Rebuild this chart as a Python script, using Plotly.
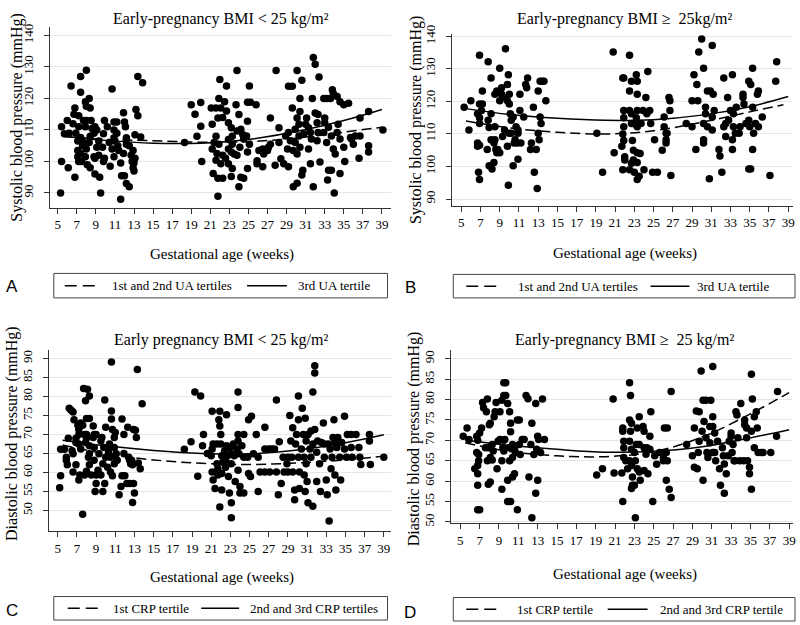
import plotly.graph_objects as go

# ---------------- DATA ----------------
week_ticks = list(range(5, 40, 2))
sbp_ticks = [90, 100, 110, 120, 130, 140]
dbp_ticks = [50, 55, 60, 65, 70, 75, 80, 85, 90]

# Panel A: systolic, BMI < 25  (week, mmHg)
a_points = [
    (5.3,90),(5.4,111),(5.4,100),(5.7,108.8),(6.2,109),(6.1,98),(6.0,113),(6.4,124),(6.7,115),(6.8,117),
    (6.6,112),(6.8,95),(7.4,127),(7.4,122),(8.0,129),(7.9,119),(8.3,120),(8.4,117),(8.0,117.5),(7.2,114.5),
    (7.7,113),(8.0,113),(8.5,113),(7.2,111),(7.9,111),(6.9,109),(7.4,107.6),(7.1,106.5),(7.7,106),(7.6,105),
    (7.1,103.5),(7.4,102.5),(7.1,101.5),(7.2,100),(7.5,100),(7.9,101.5),(8.0,104),(8.3,106),(8.4,108),(8.8,109),
    (8.9,111),(9.1,110),(8.6,110.5),(9.3,106.5),(8.1,99),(8.4,98),(8.8,101.5),(8.9,101),(9.1,104.5),(9.3,102),
    (8.9,96),(9.4,95),(9.5,90),(9.7,104.5),(9.8,108.8),(9.9,113),(10.2,111),(10.4,106),(9.9,101),(9.8,100),
    (10.5,98.5),(10.7,123),(10.9,112.5),(10.9,110),(10.9,107.5),(10.7,104),(10.9,101.5),(11.2,112.5),(11.2,109),(11.0,106.5),
    (11.3,105),(11.4,103.5),(11.6,99.5),(11.7,95.5),(11.6,88),(11.9,115.5),(12.0,112.5),(12.1,111),(12.2,107.5),(11.9,102.5),
    (12.0,95.5),(12.2,93),(12.5,92),(12.2,105.5),(12.5,105),(12.7,102),(12.8,100),(12.9,98),(13.0,97),(13.1,101),
    (13.0,99.5),(12.9,103.5),(13.2,116.5),(13.4,127),(13.4,114.5),(13.9,125),(13.7,107.8),(13.1,108.5),
    (18.3,106),(19.0,118),(19.4,115),(19.6,108),
    (20.0,111.2),(20.1,100),(20.0,118.7),(21.1,117),(21.6,117),(21.9,120),(22.1,117),(22.0,126),(22.7,124),(22.3,114),
    (21.8,113.8),(21.2,111.8),(21.6,108),(21.4,106),(21.9,105.5),(21.2,104),(21.7,102.5),(22.3,102),(21.6,100.4),(22.1,99.3),
    (21.3,96.2),(21.8,94.7),(22.3,94.7),(21.8,89),(22.5,119),(22.7,116),(22.9,112.3),(23.2,110.7),(23.3,108),(22.9,107),
    (23.3,105.5),(22.9,104),(23.2,103),(23.5,102.4),(22.6,101),(22.9,99.3),(23.3,97.8),(23.2,95.2),(23.8,128.9),(23.7,118),
    (24.0,114.9),(23.8,109.7),(24.2,110.2),(24.4,108.6),(24.5,107.1),(24.1,104.5),(23.8,102),(24.2,95),(24.5,94.7),(24.0,92),
    (24.9,118.8),(25.1,124),(25.2,118.8),(25.8,118),(24.9,112.8),(24.8,108.1),(25.1,105.5),(24.9,103),(24.9,97.8),(25.9,100.2),
    (25.9,99.3),(26.5,98.3),(26.1,103.5),(26.5,104),(26.6,102.4),(27.0,103.5),(27.1,104.5),(27.3,105.5),(27.3,113.8),(27.9,128.9),
    (27.8,98.8),(28.2,110.7),(28.2,106),(28.4,100.9),(28.7,99.3),(28.9,108.1),(29.2,123.9),(29.6,123.9),(29.2,109.2),(29.4,106.6),
    (29.1,104),(29.2,98.3),(29.7,103.5),(29.6,117),(30.1,128.9),(30.6,125.8),(30.4,120),(30.1,113.8),(30.4,115.9),(30.3,111.8),
    (29.9,110.2),(30.3,108.1),(29.9,106),(30.4,104.5),(30.1,102.4),(29.7,92),(30.1,93.1),(30.6,95.7),(30.7,97.2),(30.8,108.7),
    (31.0,111.8),(31.1,113.8),(31.3,110.7),(31.5,109.2),(31.6,107.1),(31.3,104),(31.5,99.3),(31.7,120),(31.8,133),(32.0,130.9),
    (32.4,126.8),(31.8,92),(32.0,115.4),(32.3,114.9),(32.2,112.3),(32.3,109.2),(32.2,106.6),(32.5,99.8),(32.9,120),(33.0,113.8),
    (33.2,120),(33.4,110.9),(33.6,120),(33.8,122.8),(33.9,121.6),(33.0,112.3),(32.9,109.2),(33.2,106),(33.7,108.1),(33.4,97.2),
    (33.7,97.2),(33.3,94.1),(34.0,90),(33.9,104),(34.1,102.4),(34.3,120.6),(34.6,119),(35.0,118),(34.4,111.8),(34.3,109.2),
    (34.6,107.1),(35.0,104.5),(34.6,96.2),(35.1,100),(35.5,118.5),(35.7,107.6),(35.8,107.1),(36.0,105.5),(36.2,108.1),(36.7,108.1),
    (36.7,113.8),(36.6,101),(37.6,115.9),(37.6,105),(37.6,103),(39.1,110),
]

# Panel B: systolic, BMI >= 25
b_points = [
    (5.3,118.2),(5.8,111.2),(6.0,120.2),(6.9,134.2),(7.2,123.2),(6.9,119.2),(7.2,119.2),(6.7,116.2),(7.1,117.2),(6.9,115),
    (6.9,113.2),(6.7,107.2),(6.7,106.2),(6.9,106.5),(6.8,98.2),(6.9,96),(7.7,105.2),(7.8,132.2),(8.1,127.2),(7.8,114.2),
    (7.9,112),(8.1,116.2),(7.9,100.2),(8.2,99.2),(8.4,101.2),(8.1,108.2),(8.4,107.2),(8.5,108.2),(8.5,112.2),(8.6,105.2),
    (8.7,104.2),(9.0,104.2),(8.8,105.2),(8.5,122.2),(8.7,123.2),(9.0,130.2),(9.0,120.2),(9.2,124.2),(9.2,122.2),(9.4,121.2),
    (9.3,109.2),(9.5,111.2),(9.6,136.2),(9.8,120.2),(9.8,125.2),(9.9,128.2),(10.0,122.2),(10.0,119.2),(10.1,116.2),(10.2,114.2),
    (10.4,115.2),(10.0,110.2),(10.2,110.2),(9.8,106.2),(9.9,94.2),(10.4,100.2),(10.5,107.2),(10.6,108.2),(10.8,107.2),(10.7,112.2),
    (10.9,111.2),(10.9,110.2),(10.9,102.2),(11.1,122.2),(11.1,117.2),(11.2,107.2),(11.5,115.2),(11.7,125.2),(11.8,124.2),(11.9,127.2),
    (12.2,105.2),(12.3,107.2),(12.5,118.2),(12.6,98.2),(12.8,105.2),(12.9,93.2),(13.0,123.2),(13.0,110.2),(13.1,108.2),(13.2,126.2),
    (13.2,115.2),(13.3,113.2),(13.4,126.2),(13.6,126.2),(13.8,120.2),
    (19.1,110.2),(19.7,98.2),(20.8,135.2),(20.9,104.2),(21.8,127.2),(21.9,127.2),(21.7,106.2),(21.8,99),(21.9,117.2),(21.9,115),
    (21.9,112.2),(21.8,110),(21.9,108),(22.0,103),(22.0,102),(22.5,134.2),(22.5,123.2),(22.7,126.2),(22.5,117.2),(22.7,116.2),
    (22.7,113.2),(22.5,99),(22.7,101),(22.8,108),(22.9,105),(22.9,102),(23.0,98.2),(23.2,128.2),(23.3,126.2),(23.3,122.2),
    (23.3,117.2),(23.2,115),(23.1,113),(23.3,112.2),(23.3,104.2),(23.3,101.2),(23.5,97),(23.6,104),(23.3,96),(23.7,113.2),
    (23.9,117.2),(24.0,99),(24.2,121.2),(24.3,116.2),(24.6,117.2),(24.7,113.2),(24.4,129.2),(25.1,108.2),(24.9,98.2),(25.4,98.2),
    (25.9,105),(26.1,115.2),(26.1,112.2),(26.3,110.2),(26.3,108.2),(26.3,107.2),(26.4,110.2),(26.6,121.2),(26.7,120.2),(26.7,117.2),
    (26.8,97.2),(28.4,113.2),(29.0,112.2),(29.0,120.2),(29.2,128.2),(29.5,125.2),(29.4,105.2),(29.6,120.2),(29.7,135.2),(30.0,139.2),
    (30.2,130.2),(30.2,113.2),(30.4,118.2),(30.4,116.2),(30.6,123.2),(30.6,112.2),(30.2,107.2),(30.2,108.2),(30.9,123.2),(31.1,137.2),
    (31.2,122.2),(31.1,115.2),(31.1,111.2),(30.8,96.2),(31.3,117.2),(31.8,105.2),(31.9,103.2),(32.1,98.2),(32.3,127.2),(32.3,112.2),
    (32.5,113.2),(32.5,109.2),(32.7,121.2),(32.8,114.2),(33.0,117.2),(33.2,128.2),(33.2,108.2),(33.2,105.2),(33.3,116.2),(33.3,112.2),
    (33.5,110.2),(33.6,118.2),(33.9,110.2),(34.0,112.2),(34.3,121.2),(34.4,119.2),(34.3,122.2),(34.6,113.2),(34.9,126.2),(35.1,125.2),
    (34.9,99.2),(35.1,99.2),(34.9,114.2),(35.0,112.2),(35.3,130.2),(35.3,118.2),(35.4,110.2),(35.3,105.2),(35.6,113.2),(35.8,122.2),
    (35.9,123.2),(35.9,112.2),(36.3,115.2),(37.1,97.2),(37.7,126.2),(37.8,132.2),
]

# Panel C: diastolic, BMI < 25
c_points = [
    (5.2,56),(5.3,59.1),(5.3,66.1),(5.7,66.1),(5.9,64),(5.9,63.2),(6.0,62),(6.1,69),(6.2,76.9),(6.4,76.4),
    (6.6,75.9),(6.7,73.9),(6.5,65.7),(6.6,64.9),(6.6,60.1),(6.9,62),(7.1,72.4),(7.2,71.3),(7.2,70),(6.9,69),
    (6.9,67.9),(7.2,67.5),(7.4,66.2),(7.3,59.3),(7.2,58),(7.4,73),(7.6,72.4),(7.7,82.1),(8.1,81.9),(8.3,80.1),
    (7.9,78.9),(8.0,74.2),(8.3,74.2),(7.8,70),(8.0,70),(8.0,69),(7.9,67.9),(8.3,67),(8.3,64.9),(8.2,64),
    (8.3,62),(8.0,60.3),(7.8,59.3),(7.6,49),(8.5,59.3),(8.7,72.2),(8.8,70),(8.7,69.2),(9.0,70),(8.8,66.6),
    (8.8,63.2),(9.0,59.3),(9.0,57.1),(8.9,55),(9.2,60.6),(9.3,64.9),(9.5,68.3),(9.6,69.2),(9.5,59.3),(9.7,55),
    (9.7,62.3),(9.8,66.6),(9.9,79.1),(10.0,71.9),(10.0,64),(10.2,61.4),(9.9,57.1),(10.3,65.3),(10.4,67.5),(10.5,66.6),
    (10.6,76.2),(10.6,74.1),(10.5,64),(10.5,60.1),(10.6,89.1),(10.7,71.3),(10.9,69.2),(10.9,66.6),(11.0,64.4),(10.9,62.3),
    (10.7,59.1),(11.0,70.5),(11.1,64.9),(11.2,63.2),(11.4,54.1),(11.6,56.3),(11.7,59.1),(11.7,74.1),(11.9,70),(11.9,65),
    (12.0,59.1),(12.2,57.1),(12.3,71.9),(12.4,64),(12.5,63.2),(12.5,57.1),(12.6,62.3),(12.7,63.2),(12.8,62),(12.9,57.1),
    (12.9,71.3),(13.0,54.6),(12.8,52.1),(13.1,71.1),(13.2,69.2),(13.3,87.1),(13.4,62.5),(13.6,61),(13.8,78.1),
    (18.2,66.1),(18.9,68.1),(19.3,81.2),(19.6,59),(20.6,65),
    (19.9,80.1),(20.2,70),(20.1,67),(21.1,76.1),(21.2,67.5),(21.1,66.2),(21.0,64.4),(21.1,60.1),(21.2,58),(21.4,55.8),
    (21.6,67.5),(21.6,62.3),(21.7,61),(21.7,59.3),(21.8,73.9),(21.9,76.1),(21.9,72.2),(22.0,70),(22.0,67.5),(22.1,64.4),
    (22.2,62.7),(22.1,59.7),(22.1,55.4),(21.9,50.9),(22.4,65.7),(22.5,63.2),(22.5,61.4),(22.6,75.2),(22.6,67),(22.7,64.4),
    (22.8,58.9),(22.9,54.6),(23.1,52),(23.1,48.1),(23.0,66.6),(23.1,64.9),(23.1,62.3),(23.3,67.5),(23.4,64.4),(23.5,57.6),
    (23.7,66.2),(23.8,81.2),(23.8,77.1),(23.8,70),(23.8,68.3),(23.9,64.9),(23.8,60.6),(24.0,56.3),(24.0,54.6),(24.4,70),
    (24.2,67),(24.4,64),(24.4,54.6),(24.9,73.9),(24.8,64),(24.9,59.7),(25.1,58.9),(25.2,74.8),(25.4,64.9),(25.7,70),
    (25.9,55),(26.1,60.1),(25.9,64),(26.6,71.9),(26.6,66.2),(26.6,60.1),(27.0,66.2),(27.1,60.1),(27.3,66.2),(27.6,66.2),
    (27.8,79.1),(27.8,60.1),(28.0,54.1),(28.1,68.1),(28.3,57.1),(28.5,64),(28.6,60.1),(28.9,62.3),(29.0,64),(29.2,75),
    (29.0,60.1),(29.3,68.3),(29.4,64),(29.5,71.8),(29.5,60.1),(29.7,52.8),(29.7,55.4),(29.8,67.5),(29.9,70),(30.1,80.1),
    (30.1,73.9),(30.1,64),(30.2,60.1),(30.2,55.8),(30.4,66.2),(30.5,76.9),(30.6,70),(30.7,64),(30.7,59.3),(30.8,74.3),
    (30.8,55),(30.9,68.3),(30.9,62.3),(31.0,57.6),(31.1,70),(31.3,66.2),(31.4,64),(31.1,52),(31.4,70.9),(31.6,81.2),
    (31.6,67.5),(31.6,51.1),(31.8,88.1),(31.8,86.2),(31.8,71.3),(32.0,65.3),(32.0,57.6),(32.1,68.3),(32.3,62.3),(32.4,55),
    (32.5,67.9),(32.7,73),(32.8,67.5),(32.8,64),(33.0,58),(33.1,54.1),(33.3,47.2),(33.2,67.5),(33.4,66.2),(33.5,61),
    (33.6,64),(33.7,69.2),(33.8,73.9),(33.9,67.9),(33.9,59.3),(34.0,55.4),(34.1,66.6),(34.2,69.2),(34.4,64),(34.5,58),
    (34.6,67.9),(34.9,74.8),(34.9,66.2),(35.1,64),(35.2,70),(35.6,70),(35.6,66.6),(35.7,64),(36.1,70),(36.4,66.6),
    (36.5,64),(36.6,62.1),(37.5,70),(37.5,68.3),(37.6,62.1),(39.0,64),
]

# Panel D: diastolic, BMI >= 25
d_points = [
    (5.3,71),(5.7,73),(5.9,70.2),(6.7,71),(6.8,70),(7.0,71.8),(6.7,67),(6.9,66.5),(6.9,65),(6.8,63.8),
    (6.5,63),(6.8,61.8),(6.8,59),(6.8,53),(7.0,53),(7.2,73),(7.3,79.3),(7.4,78),(7.7,77),(7.8,80.1),
    (8.0,73.8),(8.1,74.2),(7.6,68.2),(7.9,68.2),(7.8,65),(8.1,65.8),(7.9,59.2),(8.1,59.8),(8.3,65.2),(8.3,69),
    (8.4,67.4),(8.5,75.8),(8.6,77),(8.7,79.3),(8.8,63),(8.9,69.8),(9.1,70.2),(9.1,77),(9.3,79.8),(9.3,58),
    (9.4,68.2),(9.3,65),(9.5,84.1),(9.7,84.1),(9.5,81),(9.7,81),(9.5,70),(9.5,67.4),(9.6,70.2),(9.9,79),
    (10.1,77),(10.1,68.2),(9.9,60.2),(9.9,55),(10.2,55),(10.1,65),(10.2,74.2),(10.2,72.1),(10.4,69),(10.4,65.8),
    (10.4,61),(10.6,61.8),(10.6,67.8),(10.7,67),(10.9,53),(10.9,75),(11.1,75),(11.1,69),(11.2,66.5),(11.4,70.2),
    (11.6,70.2),(11.8,81),(12.0,80.2),(12.1,61),(12.3,69),(12.4,74.2),(12.4,51),(12.6,66.5),(12.8,79),(12.8,57),
    (12.9,67.8),(13.0,71),(13.0,60.2),(13.1,70.2),(13.3,67),(13.5,80.1),(13.7,70.2),
    (19.1,61.5),(19.7,63),(20.8,80.1),(20.9,62),(21.8,55),(21.7,62),(21.8,73),(21.8,72.2),(21.9,69.8),(21.9,68.2),
    (21.9,65.8),(22.1,65),(22.3,63),(22.5,84.1),(22.6,81),(22.5,75),(22.7,74.2),(22.6,72.2),(22.5,69.8),(22.7,67.8),
    (22.5,65),(22.7,63.8),(22.8,61),(22.8,59),(22.7,58.2),(23.0,59),(23.0,67),(23.1,65),(23.2,69),(23.1,51),
    (23.3,63),(23.3,73),(23.5,75.8),(23.5,69),(23.5,62.2),(23.6,60.2),(23.9,73.4),(24.0,72.2),(24.0,68.2),(24.2,66.6),
    (24.0,62.6),(24.4,61.8),(24.6,71),(24.7,77),(24.3,68.2),(24.6,67.8),(24.9,55),(25.1,66.2),(25.3,64.1),(25.6,67),
    (26.0,65.8),(26.0,65),(26.1,73),(26.3,67),(26.3,60.2),(26.4,73),(26.4,65),(26.6,58),(26.8,56),(26.8,82),
    (28.4,69),(29.0,66.2),(29.2,73),(29.2,63.4),(29.4,77.2),(29.5,63),(29.6,67),(29.7,77),(29.7,69.8),(29.9,87),
    (30.0,72.2),(30.1,79.8),(30.1,60.2),(30.2,74.6),(30.4,79.8),(30.4,70.6),(30.5,67),(30.6,65.8),(30.8,73.4),(30.8,69.4),
    (30.9,79.8),(31.1,88.1),(31.1,75.8),(31.1,73.4),(31.1,67),(31.3,71.8),(31.3,67),(31.4,65),(31.6,69.8),(31.8,63),
    (31.9,59),(32.1,68.2),(32.2,66.2),(32.3,64.2),(32.3,57),(32.5,61.8),(32.7,66.2),(32.8,69.8),(33.0,71),(33.0,71.8),
    (33.1,67),(33.2,69),(33.3,65),(33.4,65),(33.5,77),(33.6,76.2),(33.7,70.6),(33.9,65),(34.0,79),(34.3,65),
    (34.4,75),(34.4,73.8),(34.6,73),(34.6,70.6),(34.7,65),(34.9,63.4),(34.9,61.8),(35.1,86.2),(35.1,72.2),(35.1,58),
    (35.2,80.1),(35.4,75.8),(35.6,77),(35.7,73),(35.4,68.2),(35.8,67),(36.1,67),(36.3,67),(37.1,67),(37.7,71),
    (37.8,82),
]

# Fitted curves (week -> mmHg)
curve_weeks = [5.5, 10, 15, 20, 25, 30, 35, 39]
a_dash = [108.0, 107.0, 106.6, 106.1, 106.3, 107.4, 109.3, 110.9]
a_solid = [108.0, 106.7, 105.8, 105.8, 107.0, 109.5, 113.0, 116.5]
b_weeks_dash = [5.5, 10, 15, 20, 25, 30, 35, 38.5]
b_dash = [114.0, 111.9, 110.5, 110.0, 111.0, 113.6, 116.8, 119.0]
b_solid = [117.8, 116.0, 114.8, 114.2, 114.4, 115.8, 118.4, 121.5]
c_dash = [67.2, 64.9, 63.3, 62.4, 62.1, 62.5, 63.3, 64.3]
c_solid = [68.5, 67.0, 65.8, 65.0, 64.9, 65.9, 67.8, 69.9]
d_dash = [69.4, 67.3, 66.2, 66.0, 67.2, 70.8, 76.5, 81.7]
d_solid = [70.0, 68.8, 67.8, 67.1, 67.3, 68.4, 70.6, 72.6]

titles = ["Early-pregnancy BMI < 25 kg/m²", "Early-pregnancy BMI ≥  25kg/m²",
          "Early pregnancy BMI < 25 kg/m²", "Early-pregnancy BMI ≥  25 kg/m²"]
legend_labels = [("1st and 2nd UA tertiles", "3rd UA tertile"),
                 ("1st and 2nd UA tertiles", "3rd UA tertile"),
                 ("1st CRP tertile", "2nd and 3rd CRP tertiles"),
                 ("1st CRP tertile", "2nd and 3rd CRP tertile")]
panel_letters = ["A", "B", "C", "D"]
ytitle_sbp = "Systolic blood pressure (mmHg)"
ytitle_dbp = "Diastolic blood pressure (mmHg)"
xtitle = "Gestational age (weeks)"

# ---------------- LAYOUT HELPERS ----------------
W, H = 800, 625
SERIF = "Liberation Serif, Times New Roman, serif"
SANS = "Liberation Sans, Arial, sans-serif"


def px(x):
    return x / W


def py(y):
    return 1 - y / H


fig = go.Figure()

panels = [
    dict(pts=a_points, cw1=curve_weeks, c1=a_dash, cw2=curve_weeks, c2=a_solid,
         xdom=(50, 392), ydom=(17, 202), xr=(4.17, 39.9), yr=(85.3, 142.8), yt=sbp_ticks),
    dict(pts=b_points, cw1=b_weeks_dash, c1=b_dash, cw2=curve_weeks, c2=b_solid,
         xdom=(454, 796), ydom=(25, 200), xr=(4.07, 39.5), yr=(87.9, 140.6), yt=sbp_ticks),
    dict(pts=c_points, cw1=curve_weeks, c1=c_dash, cw2=curve_weeks, c2=c_solid,
         xdom=(49, 392), ydom=(347, 532), xr=(4.07, 39.7), yr=(44.6, 92.3), yt=dbp_ticks),
    dict(pts=d_points, cw1=curve_weeks, c1=d_dash, cw2=curve_weeks, c2=d_solid,
         xdom=(453, 796), ydom=(347, 524), xr=(4.07, 39.4), yr=(49.7, 92.2), yt=dbp_ticks),
]

layout_axes = {}
for i, p in enumerate(panels):
    n = "" if i == 0 else str(i + 1)
    xs = [q[0] for q in p["pts"]]
    ys = [q[1] for q in p["pts"]]
    fig.add_trace(go.Scatter(x=xs, y=ys, mode="markers", xaxis="x" + n, yaxis="y" + n,
                             marker=dict(color="black", size=7.5, line=dict(width=0)),
                             showlegend=False, hoverinfo="skip"))
    fig.add_trace(go.Scatter(x=p["cw1"], y=p["c1"], mode="lines", xaxis="x" + n, yaxis="y" + n,
                             line=dict(color="black", width=1.5, dash="10px,5px", shape="spline"),
                             showlegend=False))
    fig.add_trace(go.Scatter(x=p["cw2"], y=p["c2"], mode="lines", xaxis="x" + n, yaxis="y" + n,
                             line=dict(color="black", width=1.5, shape="spline"),
                             showlegend=False))
    layout_axes["xaxis" + n] = dict(
        domain=[px(p["xdom"][0]), px(p["xdom"][1])], range=list(p["xr"]), anchor="y" + n,
        tickvals=week_ticks, ticks="outside", ticklen=5, tickcolor="#333", showline=True,
        linecolor="#333", linewidth=1, showgrid=False, zeroline=False,
        tickfont=dict(family=SERIF, size=13, color="black"))
    layout_axes["yaxis" + n] = dict(
        domain=[py(p["ydom"][1]), py(p["ydom"][0])], range=list(p["yr"]), anchor="x" + n,
        tickvals=p["yt"], ticks="outside", ticklen=5, tickcolor="#333", tickangle=-90,
        showline=True, linecolor="#333", linewidth=1, showgrid=True, gridcolor="#e6e6e6",
        gridwidth=1, zeroline=False, ticklabelstandoff=6,
        tickfont=dict(family=SERIF, size=13, color="black"))

fig.update_layout(**layout_axes)

annotations = []
shapes = []


def text(x, y, s, size=13, font=SERIF, angle=0, xanchor="center"):
    annotations.append(dict(x=px(x), y=py(y), xref="paper", yref="paper", text=s, showarrow=False,
                            xanchor=xanchor, yanchor="middle", textangle=angle,
                            font=dict(family=font, size=size, color="black")))


# titles
text(222, 9, titles[0], 16)
text(627, 9, titles[1], 16)
text(222, 337, titles[2], 16)
text(627, 337, titles[3], 16)

# y-axis titles
text(17, 110, ytitle_sbp, 16, angle=-90)
text(417, 112, ytitle_sbp, 16, angle=-90)
text(12, 432, ytitle_dbp, 16, angle=-90)
text(415, 438, ytitle_dbp, 16, angle=-90)

# x-axis titles
text(223, 250, xtitle, 15)
text(627, 249, xtitle, 15)
text(223, 580, xtitle, 15)
text(627, 577, xtitle, 15)

# panel letters
text(12, 282, panel_letters[0], 17, SANS)
text(412, 283, panel_letters[1], 17, SANS)
text(12, 613, panel_letters[2], 17, SANS)
text(412, 615, panel_letters[3], 17, SANS)

# legend boxes
legend_geo = [
    dict(box=(54, 269, 389, 294), dash=(65, 100), t1=173, sol=(248, 288), t2=335),
    dict(box=(455, 270, 798, 294), dash=(468, 503), t1=580, sol=(653, 692), t2=736),
    dict(box=(54, 599, 389, 623), dash=(68, 102), t1=152, sol=(202, 240), t2=315),
    dict(box=(455, 600, 798, 624), dash=(468, 503), t1=557, sol=(610, 650), t2=724),
]
for i, g in enumerate(legend_geo):
    x0, y0, x1, y1 = g["box"]
    cy = (y0 + y1) / 2
    shapes.append(dict(type="rect", xref="paper", yref="paper", x0=px(x0), x1=px(x1),
                       y0=py(y1), y1=py(y0), line=dict(color="#444", width=1)))
    shapes.append(dict(type="line", xref="paper", yref="paper", x0=px(g["dash"][0]), x1=px(g["dash"][1]),
                       y0=py(cy), y1=py(cy), line=dict(color="black", width=1.5, dash="12px,6px")))
    shapes.append(dict(type="line", xref="paper", yref="paper", x0=px(g["sol"][0]), x1=px(g["sol"][1]),
                       y0=py(cy), y1=py(cy), line=dict(color="black", width=1.5)))
    text(g["t1"], cy, legend_labels[i][0], 13)
    text(g["t2"], cy, legend_labels[i][1], 13)

fig.update_layout(
    width=W, height=H, margin=dict(l=0, r=0, t=0, b=0),
    paper_bgcolor="white", plot_bgcolor="white",
    annotations=annotations, shapes=shapes, showlegend=False,
    font=dict(family=SERIF, color="black"),
)

fig.write_html("out.html", config={"displayModeBar": False},
               post_script="document.body.style.margin='0';document.body.style.overflow='hidden';")
